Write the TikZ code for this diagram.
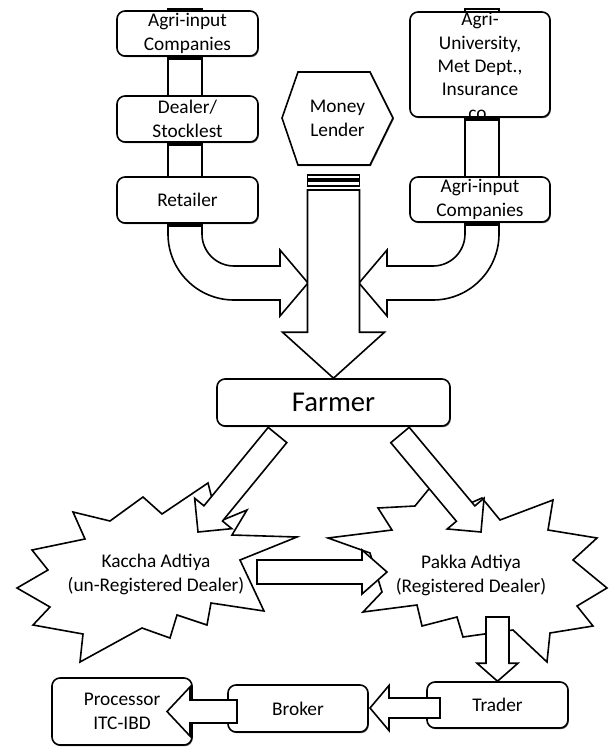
\documentclass[tikz,border=0pt]{standalone}
\usepackage{fontspec}
\setmainfont{Carlito}
\usetikzlibrary{calc,shadows}
\tikzset{
  box/.style={draw, fill=white, line width=1.2pt, rounded corners=6pt, inner sep=0pt, align=center,
    font=\fontsize{14.5}{17.5}\selectfont,
    drop shadow={shadow xshift=0.6pt, shadow yshift=-0.9pt, fill=black, opacity=0.6}},
  pipe/.style={draw, fill=white, line width=1.2pt},
  blk/.style={draw, fill=white, line width=1.2pt, line join=miter},
  burst/.style={draw, fill=white, line width=1.2pt, line join=miter},
  txt/.style={align=center, inner sep=0pt, font=\fontsize{14.5}{17.5}\selectfont},
}
\newcommand\blockarrow[5]{% start, tip, shaft half, head half, head length
  \coordinate (ba-b) at ($(#2)!#5!(#1)$);
  \draw[blk] ($(#1)!#3!90:(#2)$) -- ($(ba-b)!#3!-90:(#1)$) -- ($(ba-b)!#4!-90:(#1)$) -- (#2)
    -- ($(ba-b)!#4!90:(#1)$) -- ($(ba-b)!#3!90:(#1)$) -- ($(#1)!#3!-90:(#2)$) -- cycle;}
\begin{document}
\begin{tikzpicture}[x=0.75pt,y=-0.75pt]
\useasboundingbox (0,0) rectangle (609,747);
% pipes
\draw[pipe] (168,9) rectangle (202,215);
\draw[pipe] (465,9) rectangle (499,215);
% curved arrows
\draw[blk] (168,215) -- (168,234) .. controls (168,270.45) and (197.55,300) .. (234,300)
  -- (280,300) -- (280,316) -- (308,283) -- (280,250) -- (280,266) -- (234,266)
  .. controls (216.33,266) and (202,251.67) .. (202,234) -- (202,215) -- cycle;
\draw[blk] (499,215) -- (499,234) .. controls (499,270.45) and (469.45,300) .. (433,300)
  -- (387,300) -- (387,316) -- (359,283) -- (387,250) -- (387,266) -- (433,266)
  .. controls (450.67,266) and (465,251.67) .. (465,234) -- (465,215) -- cycle;
% top boxes
\node[box, minimum width=105.75pt, minimum height=33.75pt] (ai1) at (187.5,33.5) {Agri-input\\Companies};
\node[box, minimum width=105.75pt, minimum height=34.5pt] (dealer) at (187.5,119) {Dealer/\\Stocklest};
\node[box, minimum width=105.75pt, minimum height=34.5pt] (retailer) at (187.5,200) {Retailer};
\node[box, minimum width=105pt, minimum height=78.75pt] (agriuni) at (480,64.5) {};
\node[txt] (agriunitxt) at (480,66) {Agri-\\University,\\Met Dept.,\\Insurance\\co.};
\node[box, minimum width=105pt, minimum height=33.75pt] (ai2) at (480,199.5) {Agri-input\\Companies};
% shadow bars under boxes at the pipes
\fill (168,56) rectangle (202,60);
\fill (168,142) rectangle (202,146);
\fill (168,223) rectangle (202,227);
\fill (465,117) rectangle (499,121);
\fill (465,222) rectangle (499,226);
% money lender
\draw[burst, drop shadow={shadow xshift=0.6pt, shadow yshift=-0.9pt, fill=black, opacity=0.6}]
  (282,118) -- (298,72) -- (370,72) -- (393,118) -- (370,165) -- (298,165) -- cycle;
\node[txt] (lender) at (337.5,118.5) {Money\\Lender};
\draw[pipe] (307.5,175) rectangle (359.5,179);
\draw[pipe] (307.5,181) rectangle (359.5,186);
\coordinate (mlstart) at (333.5,190);
% farmer
\node[box, minimum width=174.75pt, minimum height=35.25pt, font=\fontsize{21.5}{24}\selectfont] (farmer) at (333.5,402.5) {Farmer};
\blockarrow{mlstart}{farmer.north}{19.5pt}{38.25pt}{34.5pt}
% bursts
\draw[burst] (73,512) -- (110,521) -- (143,497) -- (162,514) -- (208,483) -- (218,522) -- (247,510)
  -- (232,535) -- (297,537) -- (240,560) -- (264,611) -- (211,603) -- (207,625) -- (177,615)
  -- (170,638) -- (142,628) -- (80,662) -- (83,634) -- (33,625) -- (50,607) -- (17,588)
  -- (48,570) -- (32,550) -- (85,539) -- cycle;
\draw[burst] (433,484) -- (450,512) -- (482,498) -- (500,520) -- (553,500) -- (548,530) -- (597,538)
  -- (573,560) -- (607,588) -- (577,606) -- (593,626) -- (550,633) -- (547,662) -- (513,630)
  -- (463,637) -- (457,617) -- (422,626) -- (417,605) -- (363,612) -- (382,592) -- (370,553)
  -- (328,538) -- (392,530) -- (378,508) -- (415,506) -- cycle;
% farmer to adtiyas
\coordinate (fl) at (277.5,435);
\coordinate (kt) at (198,532);
\coordinate (fr) at (400,435);
\coordinate (pt) at (481,532);
\blockarrow{fl}{kt}{9pt}{18pt}{18pt}
\blockarrow{fr}{pt}{9pt}{18pt}{18pt}
\coordinate (ks) at (257,572);
\coordinate (pk) at (387,572);
\blockarrow{ks}{pk}{9pt}{16.5pt}{18.75pt}
% bottom boxes
\node[box, minimum width=105pt, minimum height=50.25pt] (processor) at (122,711.5) {Processor\\ITC-IBD};
\node[box, minimum width=105pt, minimum height=35.25pt] (broker) at (298,708.5) {Broker};
\node[box, minimum width=105.75pt, minimum height=34.5pt] (trader) at (497.5,705) {Trader};
\coordinate (ps) at (497.5,617);
\blockarrow{ps}{trader.north}{8.6pt}{15.4pt}{13.5pt}
\coordinate (ts) at (440,708);
\coordinate (tt) at (370,708);
\blockarrow{ts}{tt}{7.5pt}{16.9pt}{14.25pt}
\coordinate (bs) at (237,711.5);
\coordinate (bt) at (167,711.5);
\blockarrow{bs}{bt}{8.6pt}{18.4pt}{17.25pt}
% burst texts
\node[txt] (kaccha) at (156,574.5) {Kaccha Adtiya\\(un-Registered Dealer)};
\node[txt] (pakka) at (471,575.5) {Pakka Adtiya\\(Registered Dealer)};
\end{tikzpicture}
\end{document}
